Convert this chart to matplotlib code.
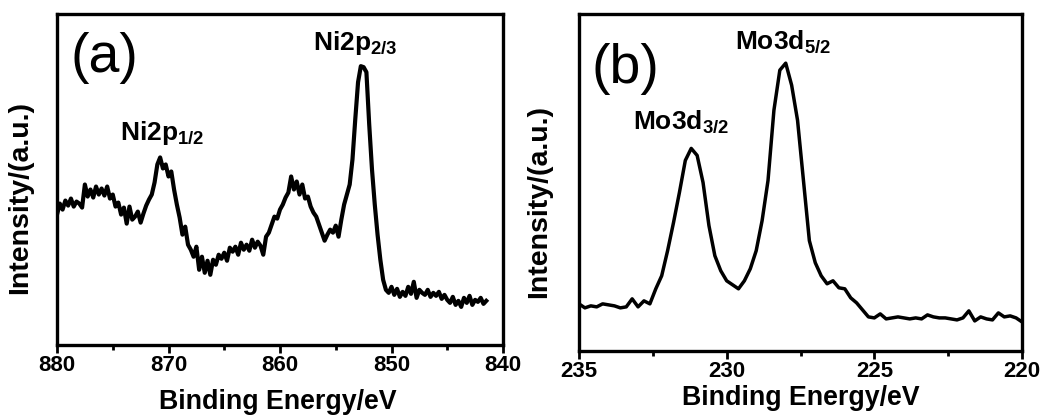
import numpy as np
import matplotlib
matplotlib.use("Agg")
import matplotlib.pyplot as plt
from matplotlib.ticker import MultipleLocator

plt.rcParams['font.family'] = ['Liberation Sans', 'DejaVu Sans']
plt.rcParams['mathtext.fontset'] = 'custom'
plt.rcParams['mathtext.rm'] = 'Liberation Sans'
plt.rcParams['mathtext.bf'] = 'Liberation Sans:bold'

# ---------------- Panel (a): Ni 2p ----------------
ni_energy_start = 880.0
ni_energy_step = -0.25
ni_intensity = [
    130, 141, 135, 144,   # 880.00 .. 879.25
    139, 146, 138, 143,   # 879
    141, 137, 160, 148,   # 878
    155, 147, 158, 150,   # 877
    156, 149, 158, 146,   # 876
    150, 138, 142, 130,   # 875
    137, 121, 138, 125,   # 874
    128, 133, 122, 131,   # 873
    139, 145, 150, 162,   # 872
    180, 187, 176, 180,   # 871
    168, 173, 155, 140,   # 870
    127, 110, 118, 100,   # 869
    95, 88, 98, 75,       # 868
    88, 72, 84, 70,       # 867
    85, 80, 90, 86,       # 866
    92, 84, 97, 93,       # 865
    98, 90, 102, 95,      # 864
    100, 94, 105, 97,     # 863
    103, 99, 90, 108,     # 862
    112, 120, 128, 126,   # 861
    135, 140, 147, 152,   # 860
    168, 155, 163, 150,   # 859
    160, 146, 148, 138,   # 858
    132, 128, 120, 112,   # 857
    104, 110, 115, 112,   # 856
    119, 108, 125, 140,   # 855
    150, 160, 185, 225,   # 854
    262, 278, 277, 272,   # 853
    220, 175, 140, 110,   # 852
    85, 65, 55, 52,       # 851
    58, 50, 56, 48,       # 850
    53, 49, 58, 51,       # 849
    63, 47, 55, 52,       # 848
    50, 55, 48, 52,       # 847
    49, 53, 46, 50,       # 846
    45, 42, 48, 40,       # 845
    44, 38, 47, 42,       # 844
    49, 40, 45, 43,       # 843
    47, 41, 44,           # 842.00 .. 841.50
]
ni_energy = ni_energy_start + ni_energy_step * np.arange(len(ni_intensity))

# ---------------- Panel (b): Mo 3d ----------------
mo_energy_start = 235.0
mo_energy_step = -0.2
mo_intensity = [
    47, 43, 45, 44, 47, 46, 45, 43, 44, 52,   # 235.0 .. 233.2
    44, 50, 47, 62, 75, 100, 128, 158, 190, 202,  # 233.0 .. 231.2
    195, 168, 125, 95, 80, 70, 66, 62, 70, 82,    # 231.0 .. 229.2
    100, 130, 170, 240, 280, 287, 265, 230, 170, 110,  # 229.0 .. 227.2
    88, 75, 67, 70, 63, 62, 53, 48, 41, 34,   # 227.0 .. 225.2
    33, 37, 32, 33, 34, 33, 32, 33, 32, 36,   # 225.0 .. 223.2
    34, 33, 33, 32, 31, 33, 40, 30, 34, 32,   # 223.0 .. 221.2
    31, 38, 34, 35, 33, 29,                   # 221.0 .. 220.0
]
mo_energy = mo_energy_start + mo_energy_step * np.arange(len(mo_intensity))

panel_tags = ['(a)', '(b)']
peak_labels_a = [r'Ni2p$_{\mathbf{1/2}}$', r'Ni2p$_{\mathbf{2/3}}$']
peak_labels_b = [r'Mo3d$_{\mathbf{3/2}}$', r'Mo3d$_{\mathbf{5/2}}$']
xlabel = 'Binding Energy/eV'
ylabel = 'Intensity/(a.u.)'

W, H = 1054, 415
fig = plt.figure(figsize=(W / 100, H / 100), dpi=100)

def px_axes(l, t, r, b):
    return fig.add_axes([l / W, 1 - b / H, (r - l) / W, (b - t) / H])

axa = px_axes(57, 14, 503, 345)
axb = px_axes(579, 14, 1022, 351)

for ax in (axa, axb):
    for s in ax.spines.values():
        s.set_linewidth(2.4)
    ax.set_yticks([])
    ax.tick_params(axis='x', which='major', direction='out', length=5.5, width=2.0,
                   pad=1.5, labelsize=16)
    ax.tick_params(axis='x', which='minor', direction='out', length=3.5, width=2.0)

# Panel a
axa.plot(ni_energy, ni_intensity, color='black', lw=3.0)
axa.set_xlim(880, 840)
axa.set_ylim(0, 330)
axa.xaxis.set_minor_locator(MultipleLocator(5))
axa.set_xticks([880, 870, 860, 850, 840])
axa.set_xticklabels(['880', '870', '860', '850', '840'], fontweight='bold', fontsize=16)
axa.set_xlabel(xlabel, fontsize=19.3, fontweight='bold')
axa.xaxis.set_label_coords(0.496, -0.132)
axa.set_ylabel(ylabel, fontsize=20.5, fontweight='bold')
axa.yaxis.set_label_coords(-0.054, 0.445)
axa.text(0.031, 0.824, panel_tags[0], transform=axa.transAxes, fontsize=40,
         ha='left', va='baseline')
axa.text(0.141, 0.618, peak_labels_a[0], transform=axa.transAxes, fontsize=19,
         fontweight='bold', ha='left', va='baseline')
axa.text(0.574, 0.891, peak_labels_a[1], transform=axa.transAxes, fontsize=19,
         fontweight='bold', ha='left', va='baseline')

# Panel b
axb.plot(mo_energy, mo_intensity, color='black', lw=2.5)
axb.set_xlim(235, 220)
axb.set_ylim(0, 336)
axb.xaxis.set_minor_locator(MultipleLocator(2.5))
axb.set_xticks([235, 230, 225, 220])
axb.set_xticklabels(['235', '230', '225', '220'], fontweight='bold', fontsize=16)
axb.set_xlabel(xlabel, fontsize=19.3, fontweight='bold')
axb.xaxis.set_label_coords(0.501, -0.102)
axb.set_ylabel(ylabel, fontsize=20.5, fontweight='bold')
axb.yaxis.set_label_coords(-0.061, 0.443)
axb.text(0.029, 0.795, panel_tags[1], transform=axb.transAxes, fontsize=40,
         ha='left', va='baseline')
axb.text(0.122, 0.661, peak_labels_b[0], transform=axb.transAxes, fontsize=19,
         fontweight='bold', ha='left', va='baseline')
axb.text(0.352, 0.899, peak_labels_b[1], transform=axb.transAxes, fontsize=19,
         fontweight='bold', ha='left', va='baseline')

fig.savefig('out.png', dpi=100)
